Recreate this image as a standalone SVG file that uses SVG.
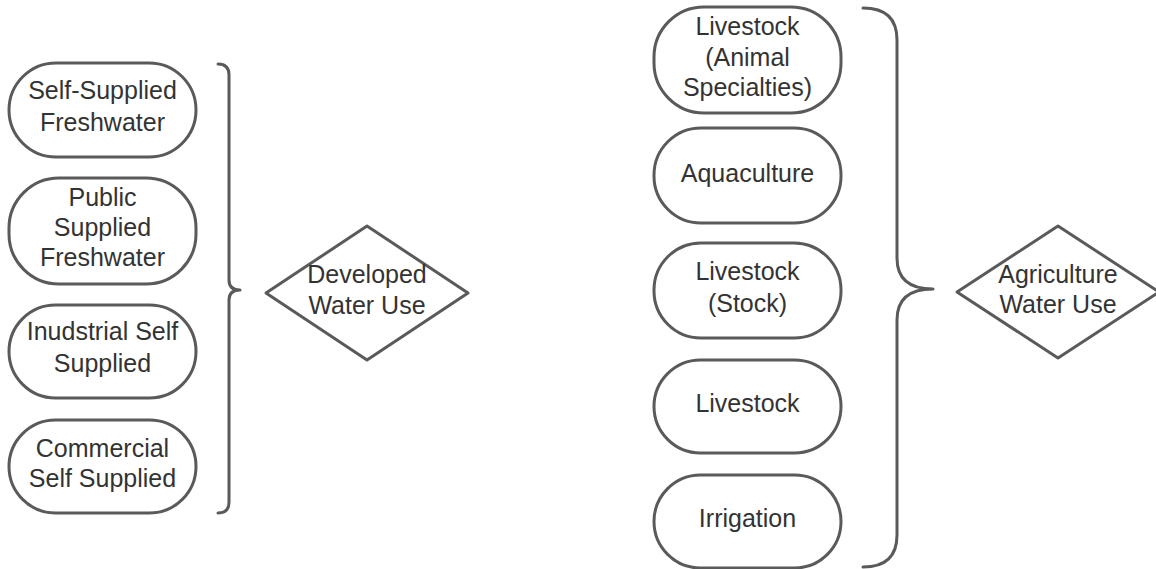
<svg xmlns="http://www.w3.org/2000/svg" width="1156" height="569" viewBox="0 0 1156 569">
<style>
.n{fill:#fff;stroke:#5a5a5a;stroke-width:3}
.t{font-family:"Liberation Sans",Arial,sans-serif;font-size:25px;fill:#333;text-anchor:middle}
.c{fill:none;stroke:#5a5a5a;stroke-width:3;stroke-linecap:round;stroke-linejoin:round}
</style>
<rect width="1156" height="569" fill="#fff"/>
<g id="self-supplied-freshwater"><rect class="n" x="9" y="63" width="187" height="94" rx="47" ry="47"/><text class="t" x="102.5" y="99">Self-Supplied</text><text class="t" x="102.5" y="131">Freshwater</text></g>
<g id="public-supplied-freshwater"><rect class="n" x="9" y="178" width="187" height="106" rx="50" ry="50"/><text class="t" x="102.5" y="206">Public</text><text class="t" x="102.5" y="236">Supplied</text><text class="t" x="102.5" y="266">Freshwater</text></g>
<g id="industrial-self-supplied"><rect class="n" x="9" y="305" width="187" height="93" rx="46.5" ry="46.5"/><text class="t" x="102.5" y="340">Inudstrial Self</text><text class="t" x="102.5" y="372">Supplied</text></g>
<g id="commercial-self-supplied"><rect class="n" x="9" y="420" width="187" height="93" rx="46.5" ry="46.5"/><text class="t" x="102.5" y="457">Commercial</text><text class="t" x="102.5" y="487">Self Supplied</text></g>
<g id="developed-water-use"><path class="n" d="M266,293 L367,226 L468,293 L367,360 Z" stroke-linejoin="round"/><text class="t" x="367" y="283">Developed</text><text class="t" x="367" y="314">Water Use</text></g>
<g id="livestock-animal"><rect class="n" x="654" y="7" width="187" height="106" rx="50" ry="50"/><text class="t" x="747.5" y="35">Livestock</text><text class="t" x="747.5" y="66">(Animal</text><text class="t" x="747.5" y="96">Specialties)</text></g>
<g id="aquaculture"><rect class="n" x="654" y="128" width="187" height="95" rx="47" ry="47"/><text class="t" x="747.5" y="182">Aquaculture</text></g>
<g id="livestock-stock"><rect class="n" x="654" y="243" width="187" height="95" rx="47" ry="47"/><text class="t" x="747.5" y="280">Livestock</text><text class="t" x="747.5" y="312">(Stock)</text></g>
<g id="livestock"><rect class="n" x="654" y="360" width="187" height="93" rx="46.5" ry="46.5"/><text class="t" x="747.5" y="412">Livestock</text></g>
<g id="irrigation"><rect class="n" x="654" y="475" width="187" height="93" rx="46.5" ry="46.5"/><text class="t" x="747.5" y="527">Irrigation</text></g>
<g id="agriculture-water-use"><path class="n" d="M957,292 L1058,226 L1159,292 L1058,358 Z" stroke-linejoin="round"/><text class="t" x="1058" y="283">Agriculture</text><text class="t" x="1058" y="313">Water Use</text></g>
<g id="connectors">
<path class="c" d="M218,64 Q229,64 229,75 L229,280 Q229,290 240,290 Q229,290 229,300 L229,502 Q229,513 218,513"/>
<path class="c" d="M863,8 Q897,8 897,40 L897,258 Q897,289 933,289 Q897,289 897,320 L897,535 Q897,567 863,567"/>
</g>
</svg>
